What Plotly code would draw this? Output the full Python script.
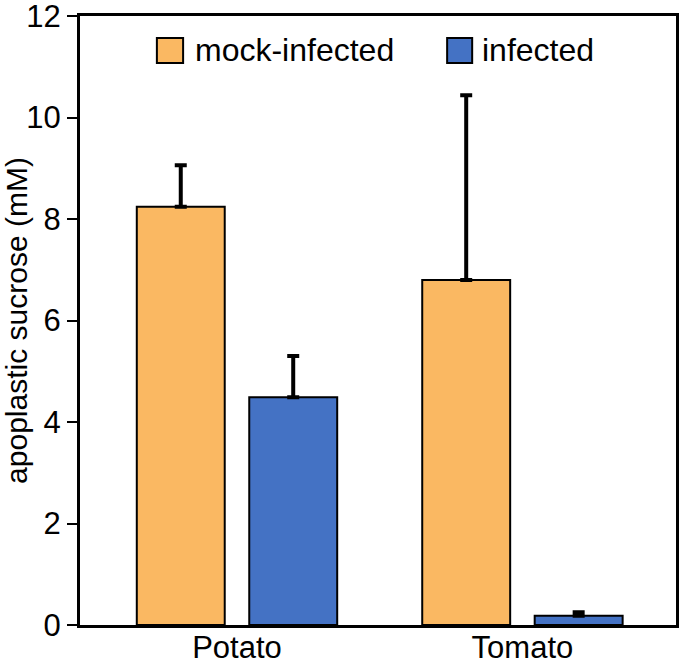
import plotly.graph_objects as go

categories = ["Potato", "Tomato"]
cat_pos = [0, 1]
series_names = ["mock-infected", "infected"]
mock_values = [8.24, 6.80]
mock_errors = [0.82, 3.64]
infected_values = [4.49, 0.18]
infected_errors = [0.81, 0.07]
y_ticks = [0, 2, 4, 6, 8, 10, 12]

colors = ["#FAB862", "#4472C4"]
FONT = "Liberation Sans, Arial, sans-serif"

fig = go.Figure()
for name, vals, errs, col in [
    (series_names[0], mock_values, mock_errors, colors[0]),
    (series_names[1], infected_values, infected_errors, colors[1]),
]:
    fig.add_trace(go.Bar(
        x=cat_pos, y=vals, name=name,
        marker=dict(color=col, line=dict(color="black", width=2)),
        error_y=dict(type="data", symmetric=False, array=errs,
                     arrayminus=[0] * len(errs),
                     color="black", thickness=4, width=6),
        showlegend=False,
    ))

# custom legend (large square swatches)
legend_x = [(0.129, 0.173, 0.190), (0.616, 0.658, 0.671)]
for (x0, x1, tx), name, col in zip(legend_x, series_names, colors):
    fig.add_shape(type="rect", xref="paper", yref="paper",
                  x0=x0, x1=x1, y0=0.923, y1=0.964,
                  fillcolor=col, line=dict(color="black", width=2))
    fig.add_annotation(xref="paper", yref="paper", x=tx, y=0.944,
                       text=name, showarrow=False, xanchor="left",
                       yanchor="middle",
                       font=dict(family=FONT, size=32, color="black"))

fig.update_layout(
    width=680, height=665,
    margin=dict(l=80, r=4, t=16, b=40),
    barmode="group", bargap=0.212, bargroupgap=0.218,
    plot_bgcolor="white", paper_bgcolor="white",
    font=dict(family=FONT, size=31, color="black"),
    xaxis=dict(range=[-0.55, 1.538], tickvals=cat_pos, ticktext=categories,
               showgrid=False, zeroline=False, showline=True,
               linecolor="black", linewidth=3, mirror=True,
               ticks="", tickfont=dict(size=31), automargin=False,
               ticklabeloverflow="allow", ticklabelstandoff=-7),
    yaxis=dict(range=[0, 12], tickvals=y_ticks, showgrid=False,
               zeroline=False, showline=True, linecolor="black",
               linewidth=3, mirror=True, ticks="outside", ticklen=10,
               tickwidth=2, tickcolor="black", tickfont=dict(size=31),
               automargin=False, ticklabeloverflow="allow",
               title=dict(text="apoplastic sucrose (mM)",
                          font=dict(size=30), standoff=2)),
)

fig.write_html("out.html",
               config={"displayModeBar": False},
               post_script="document.body.style.margin='0px';")
